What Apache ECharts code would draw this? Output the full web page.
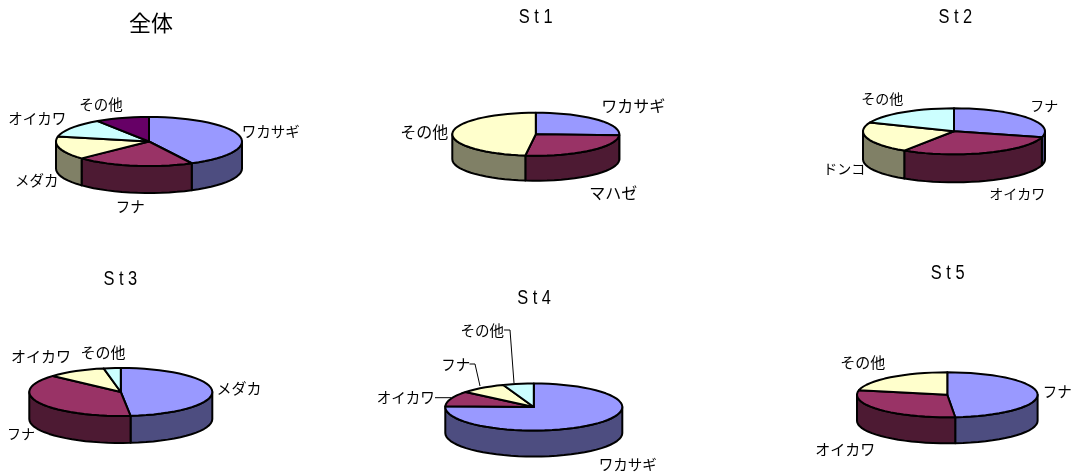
<!DOCTYPE html>
<html><head><meta charset="utf-8">
<style>html,body{margin:0;padding:0;background:#fff}#c{width:1072px;height:475px}</style>
<script src="https://cdn.jsdelivr.net/npm/echarts@6/dist/echarts.min.js"></script>
</head><body><div id="c"></div>
<script>
// --- data ---
const chartTitles = ['全体','S t 1','S t 2','S t 3','S t 4','S t 5'];
const allNames = ['ワカサギ','フナ','メダカ','オイカワ','その他'];
const allValues = [42.4,20.5,15.3,12.5,9.3];
const st1Names = ['ワカサギ','マハゼ','その他'];
const st1Values = [25.7,26.3,48.0];
const st2Names = ['フナ','オイカワ','ドンコ','その他'];
const st2Values = [29.2,30.0,22.0,18.8];
const st3Names = ['メダカ','フナ','オイカワ','その他'];
const st3Values = [48.3,38.4,10.3,3.0];
const st4Names = ['ワカサギ','オイカワ','フナ','その他'];
const st4Values = [75.5,10.5,8.4,5.6];
const st5Names = ['フナ','オイカワ','その他'];
const st5Values = [48.6,29.7,21.7];

// --- styles and layout ---
const topColors  = ['#9999FF','#993366','#FFFFCC','#CCFFFF','#660066'];
const sideColors = ['#4D4D80','#4D1A33','#808066','#668080','#330033'];
const labelFont = '"Noto Sans CJK JP","Noto Sans CJK SC",sans-serif';
const titleFont = '"Liberation Sans",Arial,sans-serif';
const pies = [
 {names:allNames,values:allValues,cx:149,cy:141.5,rx:93,ry:24.5,depth:27,title:[151,23,22,1],
  labels:[[270.7,131.7,14.5],[130.3,206.7,14.5],[36.7,180,14.5],[37.3,118.3,14.5],[101,104,14.5]]},
 {names:st1Names,values:st1Values,cx:535.8,cy:134.2,rx:83.5,ry:21.5,depth:25,title:[535.7,17.3,20,0.82],
  labels:[[633.3,105.7,16],[613.3,193.3,16],[424.3,131.7,16]]},
 {names:st2Names,values:st2Values,cx:954,cy:131.3,rx:91,ry:23,depth:28,title:[955.3,17.3,20,0.82],
  labels:[[1044.3,106,14],[1017.3,193.7,14],[844.3,168.7,14],[882.3,99,14]]},
 {names:st3Names,values:st3Values,cx:120.8,cy:392,rx:91.5,ry:24,depth:27,title:[120.3,279,20,0.82],
  labels:[[239,388.3,15],[21,434,14],[41,356,15],[103,352.7,15]]},
 {names:st4Names,values:st4Values,cx:533.8,cy:407,rx:88.5,ry:23.5,depth:26,title:[534,298.7,20,0.82],
  labels:[[627.7,464.3,14.5],[405.7,397.7,14.5],[455.7,364.3,14.5],[482.3,330,14.5]],
  leaders:[[[435,397.7],[451,397.7]],[[469.5,364],[475,364],[480,386]],[[504,330],[510,330],[514,383]]]},
 {names:st5Names,values:st5Values,cx:947.3,cy:394.8,rx:90.3,ry:22.5,depth:26,title:[947.7,273.3,20,0.82],
  labels:[[1057.3,391.7,14.5],[845.3,449.3,15],[862.7,362.7,15]]}
];

function spans(values){
  const total = values.reduce((a,b)=>a+b,0); let run = 0;
  return values.map(v=>{const s=run/total*360; run+=v; return [s,run/total*360];});
}
function rim(p,a1,a2,dy,api){
  const out=[], n=Math.max(1,Math.ceil(Math.abs(a2-a1)/5));
  for(let i=0;i<=n;i++){
    const a=(a1+(a2-a1)*i/n)*Math.PI/180;
    out.push(api.coord([p.cx+p.rx*Math.sin(a), p.cy-p.ry*Math.cos(a)+dy]));
  }
  return out;
}
const edge={stroke:'#000',lineWidth:2,lineJoin:'round'};

const series=[];
pies.forEach(p=>{
  const sp=spans(p.values);
  // front walls
  series.push({type:'custom',coordinateSystem:'cartesian2d',silent:true,animation:false,z:2,
    data:p.values.map((v,i)=>[i,v]),
    renderItem(params,api){
      const i=params.dataIndex, a1=Math.max(sp[i][0],90), a2=Math.min(sp[i][1],270);
      if(a2<=a1) return null;
      const pts=rim(p,a1,a2,0,api).concat(rim(p,a2,a1,p.depth,api));
      return {type:'polygon',shape:{points:pts},style:Object.assign({fill:sideColors[i]},edge)};
    }});
  // top faces
  series.push({type:'custom',coordinateSystem:'cartesian2d',silent:true,animation:false,z:3,
    data:p.values.map((v,i)=>[i,v]),
    renderItem(params,api){
      const i=params.dataIndex;
      const pts=[api.coord([p.cx,p.cy])].concat(rim(p,sp[i][0],sp[i][1],0,api));
      return {type:'polygon',shape:{points:pts},style:Object.assign({fill:topColors[i]},edge)};
    }});
  // slice labels
  series.push({type:'custom',coordinateSystem:'cartesian2d',silent:true,animation:false,z:4,
    data:p.names.map((n,i)=>[i]),
    renderItem(params,api){
      const i=params.dataIndex, l=p.labels[i], c=api.coord([l[0],l[1]]);
      return {type:'text',style:{text:p.names[i],x:c[0],y:c[1],align:'center',verticalAlign:'middle',
        font:l[2]+'px '+labelFont,fill:'#000'}};
    }});
  // leader lines
  if(p.leaders) series.push({type:'custom',coordinateSystem:'cartesian2d',silent:true,animation:false,z:4,
    data:p.leaders.map((n,i)=>[i]),
    renderItem(params,api){
      return {type:'polyline',shape:{points:p.leaders[params.dataIndex].map(q=>api.coord(q))},
        style:{stroke:'#000',lineWidth:1,fill:null}};
    }});
});

const chart=echarts.init(document.getElementById('c'),null,{renderer:'canvas'});
chart.setOption({
  animation:false,
  backgroundColor:'#fff',
  graphic:pies.map((p,i)=>({type:'text',x:p.title[0],y:p.title[1],scaleX:p.title[3],silent:true,
    style:{text:chartTitles[i],x:0,y:0,align:'center',verticalAlign:'middle',fill:'#000',
      font:p.title[2]+'px '+(i===0?labelFont:titleFont)}})),
  grid:{left:0,top:0,right:0,bottom:0},
  xAxis:{type:'value',min:0,max:1072,show:false},
  yAxis:{type:'value',min:0,max:475,inverse:true,show:false},
  series
});
</script></body></html>
